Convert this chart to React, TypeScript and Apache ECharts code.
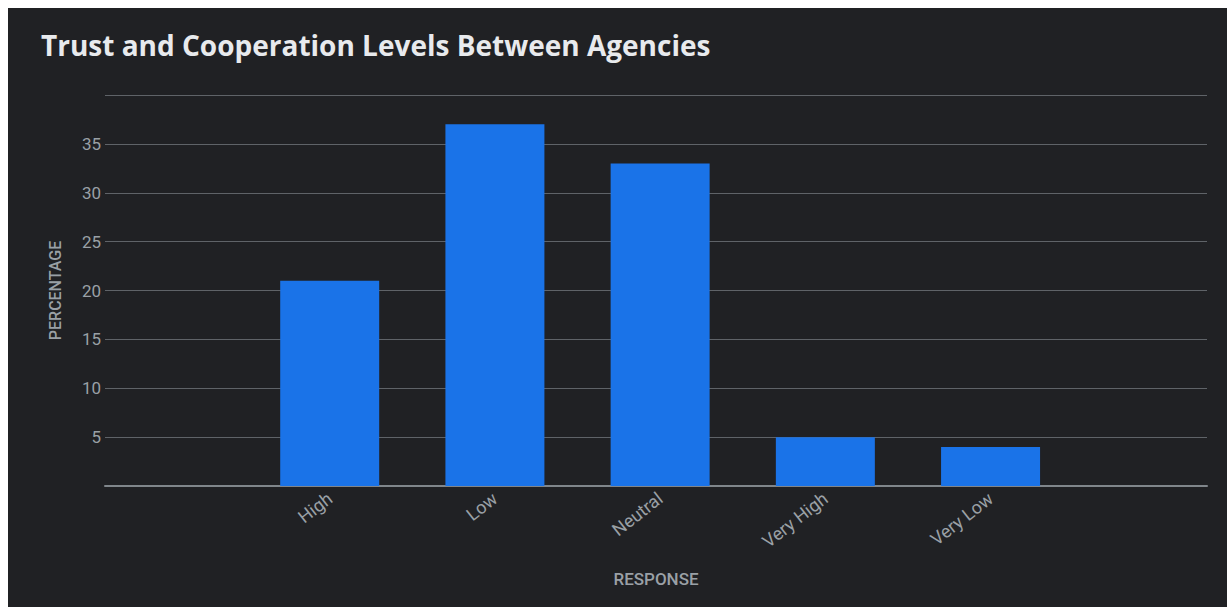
import React, { useEffect, useRef } from "react";
import * as echarts from "echarts";

const title = "Trust and Cooperation Levels Between Agencies";
const categories = ["High", "Low", "Neutral", "Very High", "Very Low"];
const percentages = [21, 37, 33, 5, 4];
const yTickLabels = [5, 10, 15, 20, 25, 30, 35];
const xAxisName = "RESPONSE";
const yAxisName = "PERCENTAGE";

export default function App() {
  const ref = useRef<HTMLDivElement>(null);

  useEffect(() => {
    if (!ref.current) return;
    const chart = echarts.init(ref.current, null, { renderer: "svg" });
    const positions = categories.map((_, i) => i);
    chart.setOption({
      animation: false,
      backgroundColor: "#202124",
      title: {
        text: title,
        left: 33,
        top: 23,
        padding: 0,
        textStyle: {
          color: "#e8eaed",
          fontFamily: "Open Sans",
          fontWeight: 700,
          fontSize: 28,
        },
      },
      grid: { left: 97, right: 20, top: 87, bottom: 121, containLabel: false },
      xAxis: {
        type: "value",
        min: -1.36,
        max: 5.31,
        name: xAxisName,
        nameLocation: "middle",
        nameGap: 84,
        nameTextStyle: { color: "#9aa0a6", fontFamily: "Roboto", fontSize: 17, fontWeight: 500 },
        splitLine: { show: false },
        axisTick: { show: false },
        axisLine: { show: true, lineStyle: { color: "#80868b", width: 2 } },
        axisLabel: {
          customValues: positions,
          formatter: (v: number) => categories[Math.round(v)] ?? "",
          rotate: 38,
          margin: 10,
          color: "#9aa0a6",
          fontFamily: "Roboto",
          fontSize: 18,
        },
      },
      yAxis: {
        type: "value",
        min: 0,
        max: 40,
        interval: 5,
        name: yAxisName,
        nameLocation: "middle",
        nameGap: 42,
        nameTextStyle: { color: "#9aa0a6", fontFamily: "Roboto", fontSize: 16, fontWeight: 500 },
        axisLine: { show: false, onZero: false },
        axisTick: { show: false },
        splitLine: { show: true, lineStyle: { color: "#5f6368", width: 1 } },
        axisLabel: {
          margin: 4,
          color: "#9aa0a6",
          fontFamily: "Roboto",
          fontSize: 17,
          formatter: (v: number) => (yTickLabels.includes(v) ? String(v) : ""),
        },
      },
      series: [
        {
          type: "bar",
          data: positions.map((p, i) => [p, percentages[i]]),
          barWidth: 99,
          itemStyle: { color: "#1a73e8" },
        },
      ],
    });
    return () => chart.dispose();
  }, []);

  return (
    <div
      ref={ref}
      style={{ position: "fixed", left: 8, top: 8, width: 1219, height: 599 }}
    />
  );
}
